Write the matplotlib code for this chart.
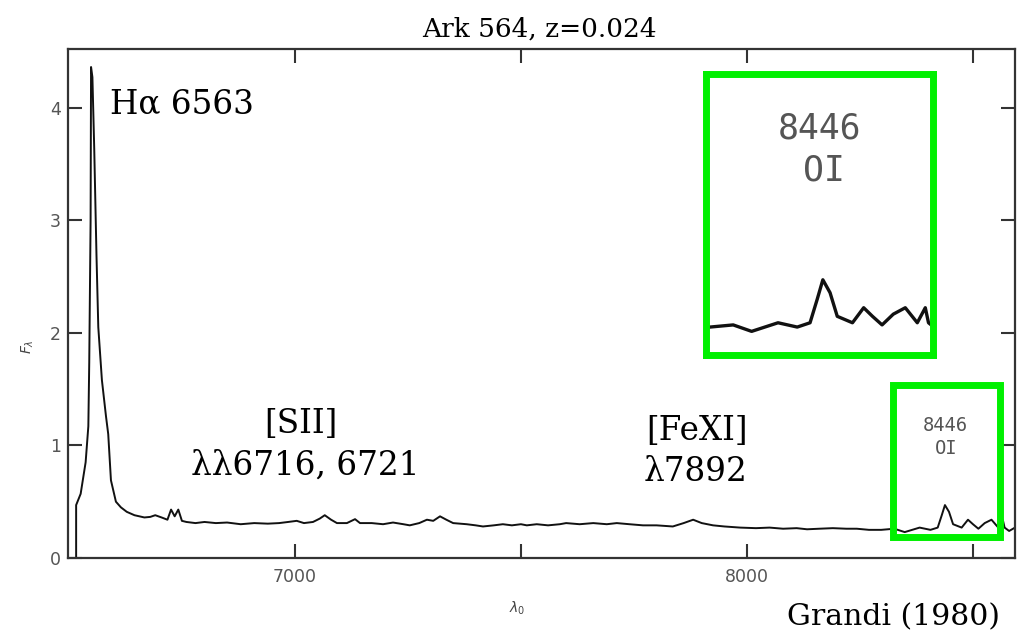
import matplotlib
matplotlib.use('Agg')
from matplotlib import pyplot as plt
from matplotlib.patches import Rectangle

# spectrum (rest wavelength in Angstrom, F_lambda)
wave = [6516, 6516, 6526, 6537, 6543, 6545, 6548, 6549, 6552, 6556, 6561, 6565, 6573,
        6582, 6587, 6593, 6604, 6615, 6628, 6645, 6667, 6680, 6691, 6705, 6718, 6726,
        6734, 6742, 6750, 6760, 6780, 6800, 6825, 6850, 6880, 6910, 6940, 6965, 6985,
        7004, 7020, 7040, 7055, 7066, 7080, 7093, 7115, 7133, 7144, 7170, 7195, 7217,
        7240, 7254, 7275, 7292, 7306, 7321, 7335, 7350, 7380, 7400, 7416, 7440, 7460,
        7480, 7500, 7513, 7535, 7560, 7586, 7600, 7630, 7660, 7690, 7712, 7740, 7770,
        7800, 7836, 7860, 7881, 7900, 7925, 7950, 7985, 8020, 8050, 8080, 8110, 8133,
        8160, 8190, 8220, 8243, 8270, 8297, 8326, 8349, 8382, 8406, 8422, 8431, 8438,
        8447, 8456, 8475, 8489, 8500, 8512, 8526, 8541, 8556, 8566, 8570, 8580, 8593]
flux = [0.0, 0.47, 0.57, 0.85, 1.17, 1.74, 3.0, 4.36, 4.27, 3.64, 2.69, 2.05, 1.58,
        1.26, 1.1, 0.69, 0.50, 0.45, 0.41, 0.38, 0.36, 0.365, 0.38, 0.36, 0.34, 0.43,
        0.37, 0.43, 0.33, 0.32, 0.31, 0.32, 0.31, 0.315, 0.30, 0.31, 0.305, 0.31, 0.32,
        0.33, 0.31, 0.32, 0.35, 0.38, 0.34, 0.31, 0.31, 0.345, 0.31, 0.31, 0.30, 0.315,
        0.30, 0.29, 0.31, 0.34, 0.33, 0.37, 0.34, 0.31, 0.30, 0.29, 0.28, 0.29, 0.30,
        0.29, 0.30, 0.29, 0.30, 0.29, 0.30, 0.31, 0.30, 0.31, 0.30, 0.31, 0.30, 0.29,
        0.29, 0.28, 0.31, 0.34, 0.31, 0.29, 0.28, 0.27, 0.265, 0.27, 0.26, 0.265, 0.255,
        0.26, 0.265, 0.26, 0.26, 0.25, 0.25, 0.26, 0.23, 0.27, 0.25, 0.27, 0.38, 0.47,
        0.41, 0.30, 0.27, 0.34, 0.30, 0.26, 0.31, 0.34, 0.27, 0.34, 0.27, 0.24, 0.27]

x_range = (6498, 8593)
y_range = (0, 4.52)
x_ticks = [7000, 7500, 8000, 8500]
x_ticklabels = ['7000', '', '8000', '']
y_ticks = [0, 1, 2, 3, 4]

# window that is blown up in the inset
zoom_wave = (8323, 8560)
zoom_flux = (0.19, 1.54)
inset_wave = (8292, 8575)
inset_flux = (0.12, 1.43)

green = '#00f000'
frame = '#333333'
serif = 'DejaVu Serif'
mono = 'DejaVu Sans Mono'

fig = plt.figure(figsize=(10.22, 6.32), dpi=100)
ax = fig.add_axes([68 / 1022, 74 / 632, 947 / 1022, 509 / 632])
ax.plot(wave, flux, color='#111111', lw=1.4)
ax.set_xlim(*x_range)
ax.set_ylim(*y_range)
ax.set_xticks(x_ticks)
ax.set_xticklabels(x_ticklabels)
ax.set_yticks(y_ticks)
ax.tick_params(direction='in', length=10, width=1.5, color=frame, labelsize=12.5,
               labelcolor='#555555', top=True, right=True)
ax.tick_params(axis='x', pad=7)
ax.tick_params(axis='y', pad=5)
for s in ax.spines.values():
    s.set_color(frame)
    s.set_linewidth(1.6)

ax.text(6591, 3.95, 'H\u03b1 6563', fontsize=23.5, family=serif, ha='left', va='baseline')
ax.text(7013, 1.11, '[SII]', fontsize=23.5, family=serif, ha='center', va='baseline')
ax.text(7022, 0.74, '\u03bb\u03bb6716, 6721', fontsize=23.5, family=serif, ha='center', va='baseline')
ax.text(7890, 1.05, '[FeXI]', fontsize=23.5, family=serif, ha='center', va='baseline')
ax.text(7887, 0.68, '\u03bb7892', fontsize=23.5, family=serif, ha='center', va='baseline')

ax.text(8438, 1.18, '8446', fontsize=13.5, family=mono, color='#555555', ha='center', va='center')
ax.text(8440, 0.97, 'OI', fontsize=13.5, family=mono, color='#555555', ha='center', va='center')
ax.add_patch(Rectangle((zoom_wave[0], zoom_flux[0]), zoom_wave[1] - zoom_wave[0],
                       zoom_flux[1] - zoom_flux[0], fill=False, ec=green, lw=5,
                       clip_on=False, zorder=5))

# enlarged view of the OI line
axin = fig.add_axes([706 / 1022, (632 - 355) / 632, 226.5 / 1022, 281.5 / 632])
axin.plot(wave, flux, color='#111111', lw=2.4)
axin.set_xlim(*inset_wave)
axin.set_ylim(*inset_flux)
axin.set_xticks([])
axin.set_yticks([])
for s in axin.spines.values():
    s.set_color(green)
    s.set_linewidth(5)
axin.text(0.5, 0.806, '8446', fontsize=25, family=mono, color='#555555', ha='center', va='center',
          transform=axin.transAxes)
axin.text(0.52, 0.654, 'OI', fontsize=25, family=mono, color='#555555', ha='center', va='center',
          transform=axin.transAxes)

fig.text(0.528, 0.943, 'Ark 564, z=0.024', fontsize=19, family=serif, ha='center', va='baseline')
fig.text(0.978, 0.011, 'Grandi (1980)', fontsize=21.5, family=serif, ha='right', va='baseline')
fig.text(0.027, 0.451, r'$F_\lambda$', fontsize=10, color='#444444', rotation=90,
         ha='center', va='center')
fig.text(0.506, 0.038, r'$\lambda_0$', fontsize=10, color='#444444', ha='center', va='center')

fig.savefig('out.png', dpi=100)
